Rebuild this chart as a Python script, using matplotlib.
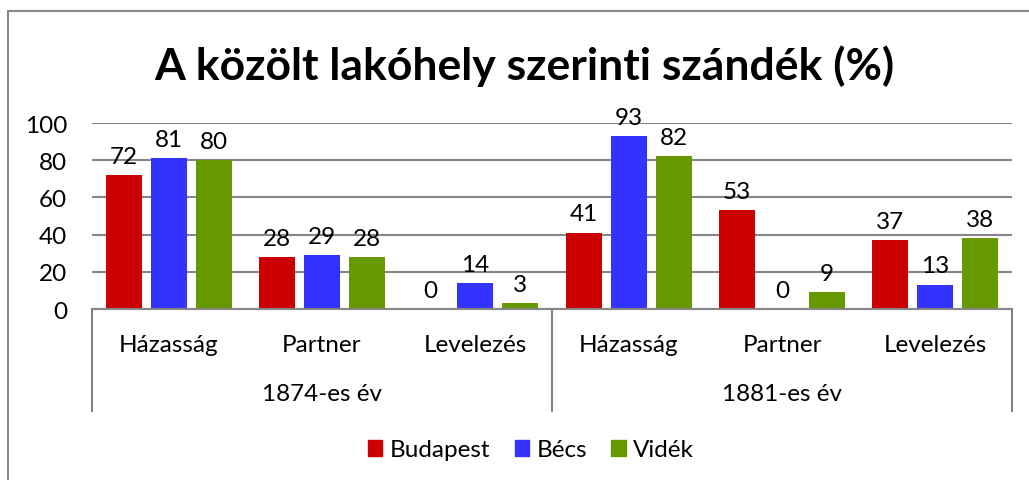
import numpy as np
import matplotlib
matplotlib.use("Agg")
import matplotlib.pyplot as plt
from matplotlib.patches import Patch, Rectangle
from matplotlib.lines import Line2D

plt.rcParams['font.family'] = ['Lato', 'DejaVu Sans']

categories = ['Házasság', 'Partner', 'Levelezés', 'Házasság', 'Partner', 'Levelezés']
groups = ['1874-es év', '1881-es év']
series = ['Budapest', 'Bécs', 'Vidék']
budapest = [72, 28, 0, 41, 53, 37]
becs = [81, 29, 14, 93, 0, 13]
videk = [80, 28, 3, 82, 9, 38]
colors = ['#CC0000', '#3333FF', '#669900']
yticks = [0, 20, 40, 60, 80, 100]

fs = 17.5

fig = plt.figure(figsize=(10.29, 4.81), dpi=100)
ax = fig.add_axes([0.0894, 0.3555, 0.8941, 0.3867])

x = np.arange(len(categories))
width = 0.235
step = 0.294
for i, (vals, col, name) in enumerate(zip([budapest, becs, videk], colors, series)):
    pos = x + (i - 1) * step
    ax.bar(pos, vals, width, color=col, label=name)
    for p, v in zip(pos, vals):
        ax.annotate(str(v), (p, v), xytext=(0, 6), textcoords='offset points',
                    ha='center', va='bottom', fontsize=fs)

ax.set_xlim(-0.5, len(categories) - 0.5)
ax.set_ylim(0, 100)
ax.set_yticks(yticks)
ax.yaxis.grid(True, color='#868686', lw=1.5)
ax.set_axisbelow(True)
ax.tick_params(axis='y', length=0, labelsize=fs, pad=18)
ax.set_xticks([])
for s in ['top', 'right', 'left']:
    ax.spines[s].set_visible(False)
ax.spines['bottom'].set_color('#868686')
ax.spines['bottom'].set_linewidth(1.5)

# category and group labels under the axis
trans = ax.get_xaxis_transform()
for xi, c in zip(x, categories):
    ax.text(xi, -0.19, c, transform=trans, ha='center', va='center', fontsize=fs)
for gi, g in enumerate(groups):
    ax.text(gi * 3 + 1, -0.455, g, transform=trans, ha='center', va='center', fontsize=fs)
for b in [-0.5, 2.5, 5.5]:
    ax.add_line(Line2D([b, b], [0, -0.55], transform=trans, color='#868686',
                       lw=1.5, clip_on=False))

fig.text(524 / 1029, 1 - 66 / 481, 'A közölt lakóhely szerinti szándék (%)', ha='center',
         va='center', fontsize=32, fontweight='bold')

handles = [Patch(color=c, label=n) for c, n in zip(colors, series)]
fig.legend(handles=handles, loc='center', bbox_to_anchor=(531 / 1029, 1 - 451 / 481),
           ncol=3, frameon=False, fontsize=fs, handlelength=0.6, handleheight=0.6,
           handletextpad=0.3, columnspacing=1.0)

fig.add_artist(Rectangle((8 / 1029, -0.1), 1.2, 1.075, transform=fig.transFigure,
                         fill=False, edgecolor='#888888', lw=1.5))

fig.savefig('out.png', dpi=100)
